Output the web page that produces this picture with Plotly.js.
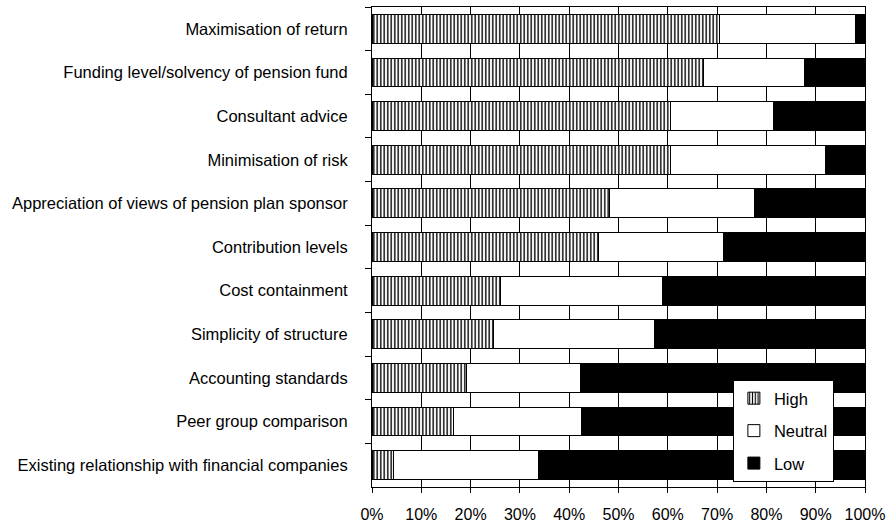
<!DOCTYPE html>
<html>
<head>
<meta charset="utf-8">
<script src="https://cdn.plot.ly/plotly-3.0.1.min.js"></script>
<style>html,body{margin:0;padding:0;background:#fff;}#chart{width:887px;height:525px;}</style>
</head>
<body>
<div id="chart"></div>
<script>
// Categories, top to bottom as shown
var categories = [
  "Maximisation of return",
  "Funding level/solvency of pension fund",
  "Consultant advice",
  "Minimisation of risk",
  "Appreciation of views of pension plan sponsor",
  "Contribution levels",
  "Cost containment",
  "Simplicity of structure",
  "Accounting standards",
  "Peer group comparison",
  "Existing relationship with financial companies"
];
// Shares in percent
var high    = [70.5, 67.2, 60.6, 60.6, 48.1, 46.0, 26.1, 24.6, 19.1, 16.5, 4.3];
var neutral = [27.6, 20.5, 20.9, 31.3, 29.4, 25.2, 32.8, 32.6, 23.2, 26.0, 29.5];
var low     = [1.9, 12.3, 18.5, 8.1, 22.5, 28.8, 41.1, 42.8, 57.7, 57.5, 66.2];
var xTicks = [0, 10, 20, 30, 40, 50, 60, 70, 80, 90, 100];
var xTickLabels = ["0%", "10%", "20%", "30%", "40%", "50%", "60%", "70%", "80%", "90%", "100%"];

var lineStyle = {color: "#000", width: 1};
var traces = [
  {type: "bar", orientation: "h", name: "High", legendgroup: "a", y: categories, x: high,
   marker: {color: "#fff", line: lineStyle,
            pattern: {shape: "|", fgcolor: "#000", bgcolor: "#fff", size: 3.5, solidity: 0.4}}},
  {type: "bar", orientation: "h", name: "Neutral", legendgroup: "b", y: categories, x: neutral,
   marker: {color: "#fff", line: lineStyle}},
  {type: "bar", orientation: "h", name: "Low", legendgroup: "c", y: categories, x: low,
   marker: {color: "#000", line: lineStyle}}
];

var layout = {
  width: 887, height: 525,
  margin: {l: 372, r: 22, t: 7, b: 38},
  paper_bgcolor: "#fff", plot_bgcolor: "#fff",
  barmode: "stack", bargap: 0.34,
  showlegend: true,
  font: {family: "Liberation Sans, Arial, sans-serif", size: 16, color: "#000"},
  hovermode: false,
  xaxis: {
    range: [0, 100], tickvals: xTicks, ticktext: xTickLabels,
    showgrid: true, gridcolor: "#000", gridwidth: 1,
    showline: true, linecolor: "#000", linewidth: 1, mirror: true,
    ticks: "outside", ticklen: 5, tickcolor: "#000",
    zeroline: false, fixedrange: true,
    ticklabelstandoff: 8,
    tickfont: {size: 16}
  },
  yaxis: {
    type: "category", autorange: "reversed",
    showline: true, linecolor: "#000", linewidth: 1, mirror: true,
    ticks: "outside", ticklen: 6, tickcolor: "#000", tickson: "boundaries",
    showgrid: false, fixedrange: true,
    ticklabelstandoff: 20,
    tickfont: {size: 16.5}
  },
  legend: {
    x: 0.732, y: 0.223, xanchor: "left", yanchor: "top",
    bgcolor: "#fff", bordercolor: "#000", borderwidth: 1,
    traceorder: "grouped", tracegroupgap: 8,
    font: {size: 16.5},
    itemwidth: 30
  }
};

Plotly.newPlot("chart", traces, layout, {displayModeBar: false, staticPlot: true});
</script>
</body>
</html>
